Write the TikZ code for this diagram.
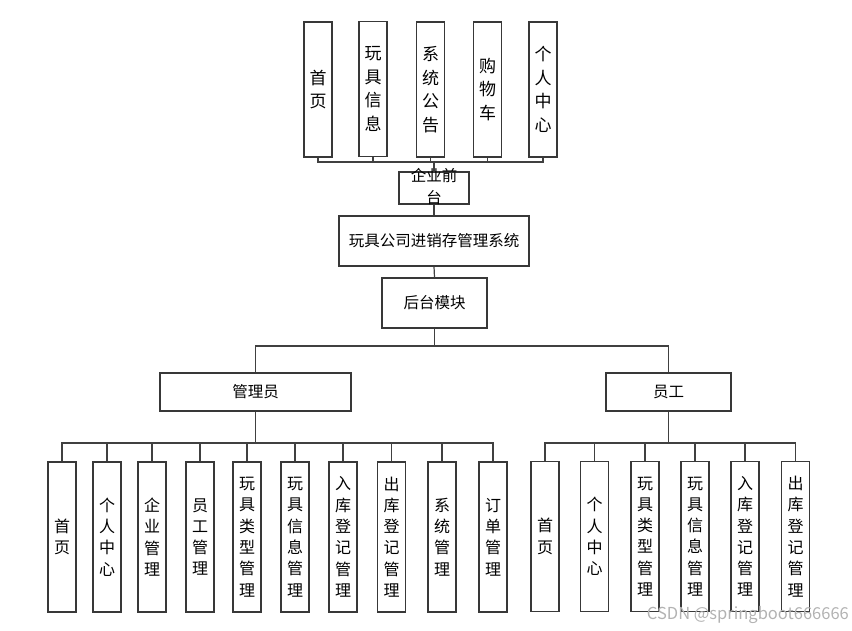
\documentclass[tikz,border=0pt]{standalone}
\usepackage{fontspec}
\newfontfamily\cjk{Noto Sans CJK SC}
\begin{document}
\begin{tikzpicture}[x=1pt,y=-1pt,
  box/.style={draw=black!78,line width=1.2pt,fill=white,inner sep=0pt},
  vtop/.style={box,minimum width=28pt,minimum height=135pt,align=center,font={\cjk\fontsize{17}{23.5}\selectfont}},
  vbot/.style={box,minimum width=28pt,minimum height=150pt,align=center,font={\cjk\fontsize{16}{21.3}\selectfont}},
  hbox/.style={box,font={\cjk\fontsize{15.5}{20}\selectfont}},
  conn/.style={draw=black!75,line width=1.2pt}]
\useasboundingbox (0,0) rectangle (852,631);
% top front-end boxes
\node[vtop] (t1) at (318,89.5) {首\\页};
\node[vtop] (t2) at (373,89) {玩\\具\\信\\息};
\node[vtop] (t3) at (430.5,89.5) {系\\统\\公\\告};
\node[vtop] (t4) at (487.5,89.5) {购\\物\\车};
\node[vtop] (t5) at (543,89.5) {个\\人\\中\\心};
\node[box,minimum width=70pt,minimum height=32pt] (qt) at (434,188) {};
\node[align=center,inner sep=0pt,font={\cjk\fontsize{15.5}{22}\selectfont}] (qtl) at (434,187) {企业前\\台};
\node[hbox,minimum width=190pt,minimum height=50pt] (sys) at (434,241) {玩具公司进销存管理系统};
\node[hbox,minimum width=105pt,minimum height=50pt] (back) at (434.5,303) {后台模块};
\node[hbox,minimum width=191pt,minimum height=38pt] (adm) at (255.5,392) {管理员};
\node[hbox,minimum width=125pt,minimum height=38pt] (stf) at (668.5,392) {员工};
% admin children
\node[vbot] (a1) at (62,537) {首\\页};
\node[vbot] (a2) at (107,537) {个\\人\\中\\心};
\node[vbot] (a3) at (152,537) {企\\业\\管\\理};
\node[vbot] (a4) at (200,537) {员\\工\\管\\理};
\node[vbot] (a5) at (247,537) {玩\\具\\类\\型\\管\\理};
\node[vbot] (a6) at (295,537) {玩\\具\\信\\息\\管\\理};
\node[vbot] (a7) at (343,537) {入\\库\\登\\记\\管\\理};
\node[vbot] (a8) at (391.5,537) {出\\库\\登\\记\\管\\理};
\node[vbot] (a9) at (442,537) {系\\统\\管\\理};
\node[vbot] (a10) at (493,537) {订\\单\\管\\理};
% staff children
\node[vbot] (s1) at (545,536.5) {首\\页};
\node[vbot] (s2) at (594.5,536.5) {个\\人\\中\\心};
\node[vbot] (s3) at (645,536.5) {玩\\具\\类\\型\\管\\理};
\node[vbot] (s4) at (695,536.5) {玩\\具\\信\\息\\管\\理};
\node[vbot] (s5) at (745,536.5) {入\\库\\登\\记\\管\\理};
\node[vbot] (s6) at (795.5,536.5) {出\\库\\登\\记\\管\\理};
% bus coordinates
\coordinate (tb) at (434,162);
\coordinate (mb) at (434.5,346);
\coordinate (ab) at (255.5,443);
\coordinate (sb) at (668.5,443);
% connectors
\foreach \i in {t1,t2,t3,t4,t5} \draw[conn] (qt.north) -- (tb) -| (\i.south);
\draw[conn] (qt.south) -- (sys.north);
\draw[conn] (sys.south) -- (back.north);
\draw[conn] (back.south) -- (mb) -| (adm.north);
\draw[conn] (mb) -| (stf.north);
\foreach \i in {a1,a2,a3,a4,a5,a6,a7,a8,a9,a10} \draw[conn] (adm.south) -- (ab) -| (\i.north);
\foreach \i in {s1,s2,s3,s4,s5,s6} \draw[conn] (stf.south) -- (sb) -| (\i.north);
% watermark
\node[anchor=east,inner sep=0pt,text=black!30,font={\cjk\fontsize{16.5}{18}\selectfont}] (wm) at (849,615) {CSDN @springboot666666};
\end{tikzpicture}
\end{document}
